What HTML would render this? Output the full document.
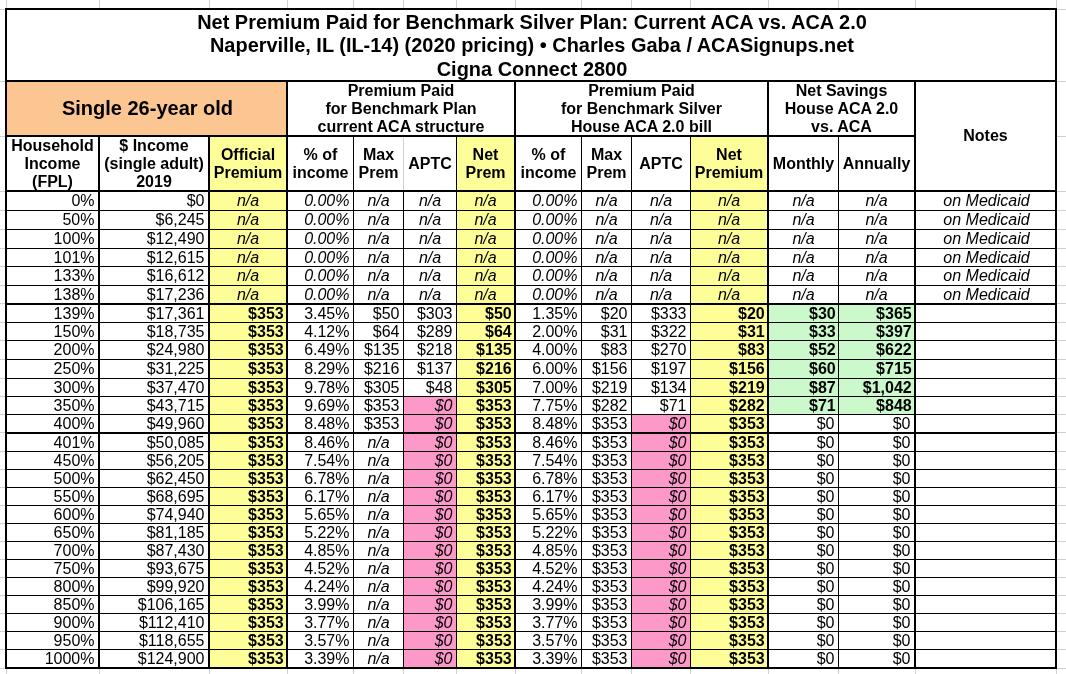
<!DOCTYPE html>
<html><head><meta charset="utf-8"><style>
html,body{margin:0;padding:0;background:#fff;width:1066px;height:674px;overflow:hidden}
body{position:relative;font-family:"Liberation Sans",sans-serif;color:#000}
.b{position:absolute}
.tl{position:absolute;left:0;top:0;width:1066px;height:674px;will-change:transform}
.t{position:absolute;display:flex;align-items:center;box-sizing:border-box;white-space:nowrap}
.title{font-weight:bold;font-size:19.96px;line-height:23.6px;justify-content:center;text-align:center}
.big{font-weight:bold;font-size:20px;justify-content:center}
.hd{font-weight:bold;font-size:16px;line-height:18px;justify-content:center;text-align:center}
.d{font-size:16px;line-height:18px}
.r{justify-content:flex-end;padding-right:3.5px}
.c{justify-content:center}
.it{font-style:italic}
.bo{font-weight:bold}
.r.bo{padding-right:2.3px}
</style></head><body>
<div class="b" style="left:6px;top:0px;width:1px;height:8px;background:#d0d0d0"></div>
<div class="b" style="left:6px;top:668px;width:1px;height:6px;background:#d0d0d0"></div>
<div class="b" style="left:99px;top:0px;width:1px;height:8px;background:#d0d0d0"></div>
<div class="b" style="left:99px;top:668px;width:1px;height:6px;background:#d0d0d0"></div>
<div class="b" style="left:209px;top:0px;width:1px;height:8px;background:#d0d0d0"></div>
<div class="b" style="left:209px;top:668px;width:1px;height:6px;background:#d0d0d0"></div>
<div class="b" style="left:287px;top:0px;width:1px;height:8px;background:#d0d0d0"></div>
<div class="b" style="left:287px;top:668px;width:1px;height:6px;background:#d0d0d0"></div>
<div class="b" style="left:353px;top:0px;width:1px;height:8px;background:#d0d0d0"></div>
<div class="b" style="left:353px;top:668px;width:1px;height:6px;background:#d0d0d0"></div>
<div class="b" style="left:403px;top:0px;width:1px;height:8px;background:#d0d0d0"></div>
<div class="b" style="left:403px;top:668px;width:1px;height:6px;background:#d0d0d0"></div>
<div class="b" style="left:456px;top:0px;width:1px;height:8px;background:#d0d0d0"></div>
<div class="b" style="left:456px;top:668px;width:1px;height:6px;background:#d0d0d0"></div>
<div class="b" style="left:515px;top:0px;width:1px;height:8px;background:#d0d0d0"></div>
<div class="b" style="left:515px;top:668px;width:1px;height:6px;background:#d0d0d0"></div>
<div class="b" style="left:581px;top:0px;width:1px;height:8px;background:#d0d0d0"></div>
<div class="b" style="left:581px;top:668px;width:1px;height:6px;background:#d0d0d0"></div>
<div class="b" style="left:631px;top:0px;width:1px;height:8px;background:#d0d0d0"></div>
<div class="b" style="left:631px;top:668px;width:1px;height:6px;background:#d0d0d0"></div>
<div class="b" style="left:690px;top:0px;width:1px;height:8px;background:#d0d0d0"></div>
<div class="b" style="left:690px;top:668px;width:1px;height:6px;background:#d0d0d0"></div>
<div class="b" style="left:768px;top:0px;width:1px;height:8px;background:#d0d0d0"></div>
<div class="b" style="left:768px;top:668px;width:1px;height:6px;background:#d0d0d0"></div>
<div class="b" style="left:838px;top:0px;width:1px;height:8px;background:#d0d0d0"></div>
<div class="b" style="left:838px;top:668px;width:1px;height:6px;background:#d0d0d0"></div>
<div class="b" style="left:915px;top:0px;width:1px;height:8px;background:#d0d0d0"></div>
<div class="b" style="left:915px;top:668px;width:1px;height:6px;background:#d0d0d0"></div>
<div class="b" style="left:1056px;top:0px;width:1px;height:8px;background:#d0d0d0"></div>
<div class="b" style="left:1056px;top:668px;width:1px;height:6px;background:#d0d0d0"></div>
<div class="b" style="left:0px;top:9px;width:5px;height:1px;background:#d0d0d0"></div>
<div class="b" style="left:1057px;top:9px;width:9px;height:1px;background:#d0d0d0"></div>
<div class="b" style="left:0px;top:81px;width:5px;height:1px;background:#d0d0d0"></div>
<div class="b" style="left:1057px;top:81px;width:9px;height:1px;background:#d0d0d0"></div>
<div class="b" style="left:0px;top:136px;width:5px;height:1px;background:#d0d0d0"></div>
<div class="b" style="left:1057px;top:136px;width:9px;height:1px;background:#d0d0d0"></div>
<div class="b" style="left:0px;top:191px;width:5px;height:1px;background:#d0d0d0"></div>
<div class="b" style="left:1057px;top:191px;width:9px;height:1px;background:#d0d0d0"></div>
<div class="b" style="left:0px;top:210px;width:5px;height:1px;background:#d0d0d0"></div>
<div class="b" style="left:1057px;top:210px;width:9px;height:1px;background:#d0d0d0"></div>
<div class="b" style="left:0px;top:229px;width:5px;height:1px;background:#d0d0d0"></div>
<div class="b" style="left:1057px;top:229px;width:9px;height:1px;background:#d0d0d0"></div>
<div class="b" style="left:0px;top:248px;width:5px;height:1px;background:#d0d0d0"></div>
<div class="b" style="left:1057px;top:248px;width:9px;height:1px;background:#d0d0d0"></div>
<div class="b" style="left:0px;top:266px;width:5px;height:1px;background:#d0d0d0"></div>
<div class="b" style="left:1057px;top:266px;width:9px;height:1px;background:#d0d0d0"></div>
<div class="b" style="left:0px;top:285px;width:5px;height:1px;background:#d0d0d0"></div>
<div class="b" style="left:1057px;top:285px;width:9px;height:1px;background:#d0d0d0"></div>
<div class="b" style="left:0px;top:303px;width:5px;height:1px;background:#d0d0d0"></div>
<div class="b" style="left:1057px;top:303px;width:9px;height:1px;background:#d0d0d0"></div>
<div class="b" style="left:0px;top:322px;width:5px;height:1px;background:#d0d0d0"></div>
<div class="b" style="left:1057px;top:322px;width:9px;height:1px;background:#d0d0d0"></div>
<div class="b" style="left:0px;top:340px;width:5px;height:1px;background:#d0d0d0"></div>
<div class="b" style="left:1057px;top:340px;width:9px;height:1px;background:#d0d0d0"></div>
<div class="b" style="left:0px;top:359px;width:5px;height:1px;background:#d0d0d0"></div>
<div class="b" style="left:1057px;top:359px;width:9px;height:1px;background:#d0d0d0"></div>
<div class="b" style="left:0px;top:378px;width:5px;height:1px;background:#d0d0d0"></div>
<div class="b" style="left:1057px;top:378px;width:9px;height:1px;background:#d0d0d0"></div>
<div class="b" style="left:0px;top:396px;width:5px;height:1px;background:#d0d0d0"></div>
<div class="b" style="left:1057px;top:396px;width:9px;height:1px;background:#d0d0d0"></div>
<div class="b" style="left:0px;top:414px;width:5px;height:1px;background:#d0d0d0"></div>
<div class="b" style="left:1057px;top:414px;width:9px;height:1px;background:#d0d0d0"></div>
<div class="b" style="left:0px;top:432px;width:5px;height:1px;background:#d0d0d0"></div>
<div class="b" style="left:1057px;top:432px;width:9px;height:1px;background:#d0d0d0"></div>
<div class="b" style="left:0px;top:451px;width:5px;height:1px;background:#d0d0d0"></div>
<div class="b" style="left:1057px;top:451px;width:9px;height:1px;background:#d0d0d0"></div>
<div class="b" style="left:0px;top:469px;width:5px;height:1px;background:#d0d0d0"></div>
<div class="b" style="left:1057px;top:469px;width:9px;height:1px;background:#d0d0d0"></div>
<div class="b" style="left:0px;top:487px;width:5px;height:1px;background:#d0d0d0"></div>
<div class="b" style="left:1057px;top:487px;width:9px;height:1px;background:#d0d0d0"></div>
<div class="b" style="left:0px;top:505px;width:5px;height:1px;background:#d0d0d0"></div>
<div class="b" style="left:1057px;top:505px;width:9px;height:1px;background:#d0d0d0"></div>
<div class="b" style="left:0px;top:523px;width:5px;height:1px;background:#d0d0d0"></div>
<div class="b" style="left:1057px;top:523px;width:9px;height:1px;background:#d0d0d0"></div>
<div class="b" style="left:0px;top:541px;width:5px;height:1px;background:#d0d0d0"></div>
<div class="b" style="left:1057px;top:541px;width:9px;height:1px;background:#d0d0d0"></div>
<div class="b" style="left:0px;top:559px;width:5px;height:1px;background:#d0d0d0"></div>
<div class="b" style="left:1057px;top:559px;width:9px;height:1px;background:#d0d0d0"></div>
<div class="b" style="left:0px;top:577px;width:5px;height:1px;background:#d0d0d0"></div>
<div class="b" style="left:1057px;top:577px;width:9px;height:1px;background:#d0d0d0"></div>
<div class="b" style="left:0px;top:595px;width:5px;height:1px;background:#d0d0d0"></div>
<div class="b" style="left:1057px;top:595px;width:9px;height:1px;background:#d0d0d0"></div>
<div class="b" style="left:0px;top:613px;width:5px;height:1px;background:#d0d0d0"></div>
<div class="b" style="left:1057px;top:613px;width:9px;height:1px;background:#d0d0d0"></div>
<div class="b" style="left:0px;top:631px;width:5px;height:1px;background:#d0d0d0"></div>
<div class="b" style="left:1057px;top:631px;width:9px;height:1px;background:#d0d0d0"></div>
<div class="b" style="left:0px;top:649px;width:5px;height:1px;background:#d0d0d0"></div>
<div class="b" style="left:1057px;top:649px;width:9px;height:1px;background:#d0d0d0"></div>
<div class="b" style="left:0px;top:668px;width:5px;height:1px;background:#d0d0d0"></div>
<div class="b" style="left:1057px;top:668px;width:9px;height:1px;background:#d0d0d0"></div>
<div class="b" style="left:7px;top:82px;width:279px;height:53px;background:#fbc692"></div>
<div class="b" style="left:210px;top:137px;width:76px;height:53px;background:#fefe98"></div>
<div class="b" style="left:457px;top:137px;width:57px;height:53px;background:#fefe98"></div>
<div class="b" style="left:691px;top:137px;width:76px;height:53px;background:#fefe98"></div>
<div class="b" style="left:210px;top:192px;width:76px;height:18px;background:#fefe98"></div>
<div class="b" style="left:457px;top:192px;width:57px;height:18px;background:#fefe98"></div>
<div class="b" style="left:691px;top:192px;width:76px;height:18px;background:#fefe98"></div>
<div class="b" style="left:210px;top:211px;width:76px;height:18px;background:#fefe98"></div>
<div class="b" style="left:457px;top:211px;width:57px;height:18px;background:#fefe98"></div>
<div class="b" style="left:691px;top:211px;width:76px;height:18px;background:#fefe98"></div>
<div class="b" style="left:210px;top:230px;width:76px;height:18px;background:#fefe98"></div>
<div class="b" style="left:457px;top:230px;width:57px;height:18px;background:#fefe98"></div>
<div class="b" style="left:691px;top:230px;width:76px;height:18px;background:#fefe98"></div>
<div class="b" style="left:210px;top:249px;width:76px;height:17px;background:#fefe98"></div>
<div class="b" style="left:457px;top:249px;width:57px;height:17px;background:#fefe98"></div>
<div class="b" style="left:691px;top:249px;width:76px;height:17px;background:#fefe98"></div>
<div class="b" style="left:210px;top:267px;width:76px;height:18px;background:#fefe98"></div>
<div class="b" style="left:457px;top:267px;width:57px;height:18px;background:#fefe98"></div>
<div class="b" style="left:691px;top:267px;width:76px;height:18px;background:#fefe98"></div>
<div class="b" style="left:210px;top:286px;width:76px;height:17px;background:#fefe98"></div>
<div class="b" style="left:457px;top:286px;width:57px;height:17px;background:#fefe98"></div>
<div class="b" style="left:691px;top:286px;width:76px;height:17px;background:#fefe98"></div>
<div class="b" style="left:210px;top:305px;width:76px;height:17px;background:#fefe98"></div>
<div class="b" style="left:457px;top:305px;width:57px;height:17px;background:#fefe98"></div>
<div class="b" style="left:691px;top:305px;width:76px;height:17px;background:#fefe98"></div>
<div class="b" style="left:769px;top:305px;width:69px;height:17px;background:#cbf9cb"></div>
<div class="b" style="left:839px;top:305px;width:75px;height:17px;background:#cbf9cb"></div>
<div class="b" style="left:210px;top:323px;width:76px;height:17px;background:#fefe98"></div>
<div class="b" style="left:457px;top:323px;width:57px;height:17px;background:#fefe98"></div>
<div class="b" style="left:691px;top:323px;width:76px;height:17px;background:#fefe98"></div>
<div class="b" style="left:769px;top:323px;width:69px;height:17px;background:#cbf9cb"></div>
<div class="b" style="left:839px;top:323px;width:75px;height:17px;background:#cbf9cb"></div>
<div class="b" style="left:210px;top:341px;width:76px;height:18px;background:#fefe98"></div>
<div class="b" style="left:457px;top:341px;width:57px;height:18px;background:#fefe98"></div>
<div class="b" style="left:691px;top:341px;width:76px;height:18px;background:#fefe98"></div>
<div class="b" style="left:769px;top:341px;width:69px;height:18px;background:#cbf9cb"></div>
<div class="b" style="left:839px;top:341px;width:75px;height:18px;background:#cbf9cb"></div>
<div class="b" style="left:210px;top:360px;width:76px;height:18px;background:#fefe98"></div>
<div class="b" style="left:457px;top:360px;width:57px;height:18px;background:#fefe98"></div>
<div class="b" style="left:691px;top:360px;width:76px;height:18px;background:#fefe98"></div>
<div class="b" style="left:769px;top:360px;width:69px;height:18px;background:#cbf9cb"></div>
<div class="b" style="left:839px;top:360px;width:75px;height:18px;background:#cbf9cb"></div>
<div class="b" style="left:210px;top:379px;width:76px;height:17px;background:#fefe98"></div>
<div class="b" style="left:457px;top:379px;width:57px;height:17px;background:#fefe98"></div>
<div class="b" style="left:691px;top:379px;width:76px;height:17px;background:#fefe98"></div>
<div class="b" style="left:769px;top:379px;width:69px;height:17px;background:#cbf9cb"></div>
<div class="b" style="left:839px;top:379px;width:75px;height:17px;background:#cbf9cb"></div>
<div class="b" style="left:210px;top:397px;width:76px;height:17px;background:#fefe98"></div>
<div class="b" style="left:457px;top:397px;width:57px;height:17px;background:#fefe98"></div>
<div class="b" style="left:691px;top:397px;width:76px;height:17px;background:#fefe98"></div>
<div class="b" style="left:404px;top:397px;width:52px;height:17px;background:#fd99c9"></div>
<div class="b" style="left:769px;top:397px;width:69px;height:17px;background:#cbf9cb"></div>
<div class="b" style="left:839px;top:397px;width:75px;height:17px;background:#cbf9cb"></div>
<div class="b" style="left:210px;top:415px;width:76px;height:17px;background:#fefe98"></div>
<div class="b" style="left:457px;top:415px;width:57px;height:17px;background:#fefe98"></div>
<div class="b" style="left:691px;top:415px;width:76px;height:17px;background:#fefe98"></div>
<div class="b" style="left:404px;top:415px;width:52px;height:17px;background:#fd99c9"></div>
<div class="b" style="left:632px;top:415px;width:58px;height:17px;background:#fd99c9"></div>
<div class="b" style="left:210px;top:434px;width:76px;height:17px;background:#fefe98"></div>
<div class="b" style="left:457px;top:434px;width:57px;height:17px;background:#fefe98"></div>
<div class="b" style="left:691px;top:434px;width:76px;height:17px;background:#fefe98"></div>
<div class="b" style="left:404px;top:434px;width:52px;height:17px;background:#fd99c9"></div>
<div class="b" style="left:632px;top:434px;width:58px;height:17px;background:#fd99c9"></div>
<div class="b" style="left:210px;top:452px;width:76px;height:17px;background:#fefe98"></div>
<div class="b" style="left:457px;top:452px;width:57px;height:17px;background:#fefe98"></div>
<div class="b" style="left:691px;top:452px;width:76px;height:17px;background:#fefe98"></div>
<div class="b" style="left:404px;top:452px;width:52px;height:17px;background:#fd99c9"></div>
<div class="b" style="left:632px;top:452px;width:58px;height:17px;background:#fd99c9"></div>
<div class="b" style="left:210px;top:470px;width:76px;height:17px;background:#fefe98"></div>
<div class="b" style="left:457px;top:470px;width:57px;height:17px;background:#fefe98"></div>
<div class="b" style="left:691px;top:470px;width:76px;height:17px;background:#fefe98"></div>
<div class="b" style="left:404px;top:470px;width:52px;height:17px;background:#fd99c9"></div>
<div class="b" style="left:632px;top:470px;width:58px;height:17px;background:#fd99c9"></div>
<div class="b" style="left:210px;top:488px;width:76px;height:17px;background:#fefe98"></div>
<div class="b" style="left:457px;top:488px;width:57px;height:17px;background:#fefe98"></div>
<div class="b" style="left:691px;top:488px;width:76px;height:17px;background:#fefe98"></div>
<div class="b" style="left:404px;top:488px;width:52px;height:17px;background:#fd99c9"></div>
<div class="b" style="left:632px;top:488px;width:58px;height:17px;background:#fd99c9"></div>
<div class="b" style="left:210px;top:506px;width:76px;height:17px;background:#fefe98"></div>
<div class="b" style="left:457px;top:506px;width:57px;height:17px;background:#fefe98"></div>
<div class="b" style="left:691px;top:506px;width:76px;height:17px;background:#fefe98"></div>
<div class="b" style="left:404px;top:506px;width:52px;height:17px;background:#fd99c9"></div>
<div class="b" style="left:632px;top:506px;width:58px;height:17px;background:#fd99c9"></div>
<div class="b" style="left:210px;top:524px;width:76px;height:17px;background:#fefe98"></div>
<div class="b" style="left:457px;top:524px;width:57px;height:17px;background:#fefe98"></div>
<div class="b" style="left:691px;top:524px;width:76px;height:17px;background:#fefe98"></div>
<div class="b" style="left:404px;top:524px;width:52px;height:17px;background:#fd99c9"></div>
<div class="b" style="left:632px;top:524px;width:58px;height:17px;background:#fd99c9"></div>
<div class="b" style="left:210px;top:542px;width:76px;height:17px;background:#fefe98"></div>
<div class="b" style="left:457px;top:542px;width:57px;height:17px;background:#fefe98"></div>
<div class="b" style="left:691px;top:542px;width:76px;height:17px;background:#fefe98"></div>
<div class="b" style="left:404px;top:542px;width:52px;height:17px;background:#fd99c9"></div>
<div class="b" style="left:632px;top:542px;width:58px;height:17px;background:#fd99c9"></div>
<div class="b" style="left:210px;top:560px;width:76px;height:17px;background:#fefe98"></div>
<div class="b" style="left:457px;top:560px;width:57px;height:17px;background:#fefe98"></div>
<div class="b" style="left:691px;top:560px;width:76px;height:17px;background:#fefe98"></div>
<div class="b" style="left:404px;top:560px;width:52px;height:17px;background:#fd99c9"></div>
<div class="b" style="left:632px;top:560px;width:58px;height:17px;background:#fd99c9"></div>
<div class="b" style="left:210px;top:578px;width:76px;height:17px;background:#fefe98"></div>
<div class="b" style="left:457px;top:578px;width:57px;height:17px;background:#fefe98"></div>
<div class="b" style="left:691px;top:578px;width:76px;height:17px;background:#fefe98"></div>
<div class="b" style="left:404px;top:578px;width:52px;height:17px;background:#fd99c9"></div>
<div class="b" style="left:632px;top:578px;width:58px;height:17px;background:#fd99c9"></div>
<div class="b" style="left:210px;top:596px;width:76px;height:17px;background:#fefe98"></div>
<div class="b" style="left:457px;top:596px;width:57px;height:17px;background:#fefe98"></div>
<div class="b" style="left:691px;top:596px;width:76px;height:17px;background:#fefe98"></div>
<div class="b" style="left:404px;top:596px;width:52px;height:17px;background:#fd99c9"></div>
<div class="b" style="left:632px;top:596px;width:58px;height:17px;background:#fd99c9"></div>
<div class="b" style="left:210px;top:614px;width:76px;height:17px;background:#fefe98"></div>
<div class="b" style="left:457px;top:614px;width:57px;height:17px;background:#fefe98"></div>
<div class="b" style="left:691px;top:614px;width:76px;height:17px;background:#fefe98"></div>
<div class="b" style="left:404px;top:614px;width:52px;height:17px;background:#fd99c9"></div>
<div class="b" style="left:632px;top:614px;width:58px;height:17px;background:#fd99c9"></div>
<div class="b" style="left:210px;top:632px;width:76px;height:17px;background:#fefe98"></div>
<div class="b" style="left:457px;top:632px;width:57px;height:17px;background:#fefe98"></div>
<div class="b" style="left:691px;top:632px;width:76px;height:17px;background:#fefe98"></div>
<div class="b" style="left:404px;top:632px;width:52px;height:17px;background:#fd99c9"></div>
<div class="b" style="left:632px;top:632px;width:58px;height:17px;background:#fd99c9"></div>
<div class="b" style="left:210px;top:650px;width:76px;height:17px;background:#fefe98"></div>
<div class="b" style="left:457px;top:650px;width:57px;height:17px;background:#fefe98"></div>
<div class="b" style="left:691px;top:650px;width:76px;height:17px;background:#fefe98"></div>
<div class="b" style="left:404px;top:650px;width:52px;height:17px;background:#fd99c9"></div>
<div class="b" style="left:632px;top:650px;width:58px;height:17px;background:#fd99c9"></div>
<div class="b" style="left:5px;top:8px;width:1052px;height:2px;background:#000"></div>
<div class="b" style="left:5px;top:80px;width:1052px;height:2px;background:#000"></div>
<div class="b" style="left:5px;top:135px;width:909px;height:2px;background:#000"></div>
<div class="b" style="left:5px;top:8px;width:2px;height:661px;background:#000"></div>
<div class="b" style="left:1055px;top:8px;width:2px;height:661px;background:#000"></div>
<div class="b" style="left:286px;top:82px;width:2px;height:108px;background:#000"></div>
<div class="b" style="left:514px;top:82px;width:2px;height:108px;background:#000"></div>
<div class="b" style="left:767px;top:82px;width:2px;height:108px;background:#000"></div>
<div class="b" style="left:914px;top:82px;width:2px;height:108px;background:#000"></div>
<div class="b" style="left:98px;top:137px;width:2px;height:53px;background:#000"></div>
<div class="b" style="left:208px;top:137px;width:2px;height:53px;background:#000"></div>
<div class="b" style="left:353px;top:137px;width:1px;height:53px;background:#000"></div>
<div class="b" style="left:456px;top:137px;width:1px;height:53px;background:#000"></div>
<div class="b" style="left:581px;top:137px;width:1px;height:53px;background:#000"></div>
<div class="b" style="left:631px;top:137px;width:1px;height:53px;background:#000"></div>
<div class="b" style="left:690px;top:137px;width:1px;height:53px;background:#000"></div>
<div class="b" style="left:838px;top:137px;width:1px;height:53px;background:#000"></div>
<div class="b" style="left:403px;top:137px;width:1px;height:53px;background:#d0d0d0"></div>
<div class="b" style="left:98px;top:190px;width:2px;height:477px;background:#000"></div>
<div class="b" style="left:208px;top:190px;width:2px;height:477px;background:#000"></div>
<div class="b" style="left:286px;top:190px;width:2px;height:477px;background:#000"></div>
<div class="b" style="left:353px;top:190px;width:1px;height:477px;background:#000"></div>
<div class="b" style="left:403px;top:190px;width:1px;height:477px;background:#000"></div>
<div class="b" style="left:456px;top:190px;width:1px;height:477px;background:#000"></div>
<div class="b" style="left:514px;top:190px;width:2px;height:477px;background:#000"></div>
<div class="b" style="left:581px;top:190px;width:1px;height:477px;background:#000"></div>
<div class="b" style="left:631px;top:190px;width:1px;height:477px;background:#000"></div>
<div class="b" style="left:690px;top:190px;width:1px;height:477px;background:#000"></div>
<div class="b" style="left:767px;top:190px;width:2px;height:477px;background:#000"></div>
<div class="b" style="left:838px;top:190px;width:1px;height:477px;background:#000"></div>
<div class="b" style="left:914px;top:190px;width:2px;height:477px;background:#000"></div>
<div class="b" style="left:5px;top:190px;width:1052px;height:2px;background:#000"></div>
<div class="b" style="left:5px;top:210px;width:1052px;height:1px;background:#000"></div>
<div class="b" style="left:5px;top:229px;width:1052px;height:1px;background:#000"></div>
<div class="b" style="left:5px;top:248px;width:1052px;height:1px;background:#000"></div>
<div class="b" style="left:5px;top:266px;width:1052px;height:1px;background:#000"></div>
<div class="b" style="left:5px;top:285px;width:1052px;height:1px;background:#000"></div>
<div class="b" style="left:5px;top:303px;width:1052px;height:2px;background:#000"></div>
<div class="b" style="left:5px;top:322px;width:1052px;height:1px;background:#000"></div>
<div class="b" style="left:5px;top:340px;width:1052px;height:1px;background:#000"></div>
<div class="b" style="left:5px;top:359px;width:1052px;height:1px;background:#000"></div>
<div class="b" style="left:5px;top:378px;width:1052px;height:1px;background:#000"></div>
<div class="b" style="left:5px;top:396px;width:1052px;height:1px;background:#000"></div>
<div class="b" style="left:5px;top:414px;width:1052px;height:1px;background:#000"></div>
<div class="b" style="left:5px;top:432px;width:1052px;height:2px;background:#000"></div>
<div class="b" style="left:5px;top:451px;width:1052px;height:1px;background:#000"></div>
<div class="b" style="left:5px;top:469px;width:1052px;height:1px;background:#000"></div>
<div class="b" style="left:5px;top:487px;width:1052px;height:1px;background:#000"></div>
<div class="b" style="left:5px;top:505px;width:1052px;height:1px;background:#000"></div>
<div class="b" style="left:5px;top:523px;width:1052px;height:1px;background:#000"></div>
<div class="b" style="left:5px;top:541px;width:1052px;height:1px;background:#000"></div>
<div class="b" style="left:5px;top:559px;width:1052px;height:1px;background:#000"></div>
<div class="b" style="left:5px;top:577px;width:1052px;height:1px;background:#000"></div>
<div class="b" style="left:5px;top:595px;width:1052px;height:1px;background:#000"></div>
<div class="b" style="left:5px;top:613px;width:1052px;height:1px;background:#000"></div>
<div class="b" style="left:5px;top:631px;width:1052px;height:1px;background:#000"></div>
<div class="b" style="left:5px;top:649px;width:1052px;height:1px;background:#000"></div>
<div class="b" style="left:5px;top:667px;width:1052px;height:2px;background:#000"></div>
<div class="tl">
<div class="t title" style="left:8px;top:11px;width:1048px;height:70px">Net Premium Paid for Benchmark Silver Plan: Current ACA vs. ACA 2.0<br>Naperville, IL (IL-14) (2020 pricing) &bull; Charles Gaba / ACASignups.net<br>Cigna Connect 2800</div>
<div class="t big" style="left:8px;top:82px;width:279px;height:53px;">Single 26-year old</div>
<div class="t hd" style="left:288px;top:82px;width:226px;height:53px;">Premium Paid<br>for Benchmark Plan<br>current ACA structure</div>
<div class="t hd" style="left:516px;top:82px;width:251px;height:53px;">Premium Paid<br>for Benchmark Silver<br>House ACA 2.0 bill</div>
<div class="t hd" style="left:769px;top:82px;width:145px;height:53px;">Net Savings<br>House ACA 2.0<br>vs. ACA</div>
<div class="t hd" style="left:916px;top:82px;width:139px;height:108px;">Notes</div>
<div class="t hd" style="left:7px;top:137px;width:91px;height:53px;">Household<br>Income<br>(FPL)</div>
<div class="t hd" style="left:100px;top:137px;width:108px;height:53px;">$ Income<br>(single adult)<br>2019</div>
<div class="t hd" style="left:210px;top:137px;width:76px;height:53px;">Official<br>Premium</div>
<div class="t hd" style="left:288px;top:137px;width:65px;height:53px;">% of<br>income</div>
<div class="t hd" style="left:354px;top:137px;width:49px;height:53px;">Max<br>Prem</div>
<div class="t hd" style="left:404px;top:137px;width:52px;height:53px;">APTC</div>
<div class="t hd" style="left:457px;top:137px;width:57px;height:53px;">Net<br>Prem</div>
<div class="t hd" style="left:516px;top:137px;width:65px;height:53px;">% of<br>income</div>
<div class="t hd" style="left:582px;top:137px;width:49px;height:53px;">Max<br>Prem</div>
<div class="t hd" style="left:632px;top:137px;width:58px;height:53px;">APTC</div>
<div class="t hd" style="left:691px;top:137px;width:76px;height:53px;">Net<br>Premium</div>
<div class="t hd" style="left:769px;top:137px;width:69px;height:53px;">Monthly</div>
<div class="t hd" style="left:839px;top:137px;width:75px;height:53px;">Annually</div>
<div class="t d r" style="left:7px;top:192px;width:91px;height:18px;">0%</div>
<div class="t d r" style="left:100px;top:192px;width:108px;height:18px;">$0</div>
<div class="t d it c" style="left:210px;top:192px;width:76px;height:18px;">n/a</div>
<div class="t d r it" style="left:288px;top:192px;width:65px;height:18px;">0.00%</div>
<div class="t d it c" style="left:354px;top:192px;width:49px;height:18px;">n/a</div>
<div class="t d it c" style="left:404px;top:192px;width:52px;height:18px;">n/a</div>
<div class="t d it c" style="left:457px;top:192px;width:57px;height:18px;">n/a</div>
<div class="t d r it" style="left:516px;top:192px;width:65px;height:18px;">0.00%</div>
<div class="t d it c" style="left:582px;top:192px;width:49px;height:18px;">n/a</div>
<div class="t d it c" style="left:632px;top:192px;width:58px;height:18px;">n/a</div>
<div class="t d it c" style="left:691px;top:192px;width:76px;height:18px;">n/a</div>
<div class="t d it c" style="left:769px;top:192px;width:69px;height:18px;">n/a</div>
<div class="t d it c" style="left:839px;top:192px;width:75px;height:18px;">n/a</div>
<div class="t d it c" style="left:916px;top:192px;width:139px;height:18px;padding-left:2px">on Medicaid</div>
<div class="t d r" style="left:7px;top:211px;width:91px;height:18px;">50%</div>
<div class="t d r" style="left:100px;top:211px;width:108px;height:18px;">$6,245</div>
<div class="t d it c" style="left:210px;top:211px;width:76px;height:18px;">n/a</div>
<div class="t d r it" style="left:288px;top:211px;width:65px;height:18px;">0.00%</div>
<div class="t d it c" style="left:354px;top:211px;width:49px;height:18px;">n/a</div>
<div class="t d it c" style="left:404px;top:211px;width:52px;height:18px;">n/a</div>
<div class="t d it c" style="left:457px;top:211px;width:57px;height:18px;">n/a</div>
<div class="t d r it" style="left:516px;top:211px;width:65px;height:18px;">0.00%</div>
<div class="t d it c" style="left:582px;top:211px;width:49px;height:18px;">n/a</div>
<div class="t d it c" style="left:632px;top:211px;width:58px;height:18px;">n/a</div>
<div class="t d it c" style="left:691px;top:211px;width:76px;height:18px;">n/a</div>
<div class="t d it c" style="left:769px;top:211px;width:69px;height:18px;">n/a</div>
<div class="t d it c" style="left:839px;top:211px;width:75px;height:18px;">n/a</div>
<div class="t d it c" style="left:916px;top:211px;width:139px;height:18px;padding-left:2px">on Medicaid</div>
<div class="t d r" style="left:7px;top:230px;width:91px;height:18px;">100%</div>
<div class="t d r" style="left:100px;top:230px;width:108px;height:18px;">$12,490</div>
<div class="t d it c" style="left:210px;top:230px;width:76px;height:18px;">n/a</div>
<div class="t d r it" style="left:288px;top:230px;width:65px;height:18px;">0.00%</div>
<div class="t d it c" style="left:354px;top:230px;width:49px;height:18px;">n/a</div>
<div class="t d it c" style="left:404px;top:230px;width:52px;height:18px;">n/a</div>
<div class="t d it c" style="left:457px;top:230px;width:57px;height:18px;">n/a</div>
<div class="t d r it" style="left:516px;top:230px;width:65px;height:18px;">0.00%</div>
<div class="t d it c" style="left:582px;top:230px;width:49px;height:18px;">n/a</div>
<div class="t d it c" style="left:632px;top:230px;width:58px;height:18px;">n/a</div>
<div class="t d it c" style="left:691px;top:230px;width:76px;height:18px;">n/a</div>
<div class="t d it c" style="left:769px;top:230px;width:69px;height:18px;">n/a</div>
<div class="t d it c" style="left:839px;top:230px;width:75px;height:18px;">n/a</div>
<div class="t d it c" style="left:916px;top:230px;width:139px;height:18px;padding-left:2px">on Medicaid</div>
<div class="t d r" style="left:7px;top:249px;width:91px;height:17px;">101%</div>
<div class="t d r" style="left:100px;top:249px;width:108px;height:17px;">$12,615</div>
<div class="t d it c" style="left:210px;top:249px;width:76px;height:17px;">n/a</div>
<div class="t d r it" style="left:288px;top:249px;width:65px;height:17px;">0.00%</div>
<div class="t d it c" style="left:354px;top:249px;width:49px;height:17px;">n/a</div>
<div class="t d it c" style="left:404px;top:249px;width:52px;height:17px;">n/a</div>
<div class="t d it c" style="left:457px;top:249px;width:57px;height:17px;">n/a</div>
<div class="t d r it" style="left:516px;top:249px;width:65px;height:17px;">0.00%</div>
<div class="t d it c" style="left:582px;top:249px;width:49px;height:17px;">n/a</div>
<div class="t d it c" style="left:632px;top:249px;width:58px;height:17px;">n/a</div>
<div class="t d it c" style="left:691px;top:249px;width:76px;height:17px;">n/a</div>
<div class="t d it c" style="left:769px;top:249px;width:69px;height:17px;">n/a</div>
<div class="t d it c" style="left:839px;top:249px;width:75px;height:17px;">n/a</div>
<div class="t d it c" style="left:916px;top:249px;width:139px;height:17px;padding-left:2px">on Medicaid</div>
<div class="t d r" style="left:7px;top:267px;width:91px;height:18px;">133%</div>
<div class="t d r" style="left:100px;top:267px;width:108px;height:18px;">$16,612</div>
<div class="t d it c" style="left:210px;top:267px;width:76px;height:18px;">n/a</div>
<div class="t d r it" style="left:288px;top:267px;width:65px;height:18px;">0.00%</div>
<div class="t d it c" style="left:354px;top:267px;width:49px;height:18px;">n/a</div>
<div class="t d it c" style="left:404px;top:267px;width:52px;height:18px;">n/a</div>
<div class="t d it c" style="left:457px;top:267px;width:57px;height:18px;">n/a</div>
<div class="t d r it" style="left:516px;top:267px;width:65px;height:18px;">0.00%</div>
<div class="t d it c" style="left:582px;top:267px;width:49px;height:18px;">n/a</div>
<div class="t d it c" style="left:632px;top:267px;width:58px;height:18px;">n/a</div>
<div class="t d it c" style="left:691px;top:267px;width:76px;height:18px;">n/a</div>
<div class="t d it c" style="left:769px;top:267px;width:69px;height:18px;">n/a</div>
<div class="t d it c" style="left:839px;top:267px;width:75px;height:18px;">n/a</div>
<div class="t d it c" style="left:916px;top:267px;width:139px;height:18px;padding-left:2px">on Medicaid</div>
<div class="t d r" style="left:7px;top:286px;width:91px;height:17px;">138%</div>
<div class="t d r" style="left:100px;top:286px;width:108px;height:17px;">$17,236</div>
<div class="t d it c" style="left:210px;top:286px;width:76px;height:17px;">n/a</div>
<div class="t d r it" style="left:288px;top:286px;width:65px;height:17px;">0.00%</div>
<div class="t d it c" style="left:354px;top:286px;width:49px;height:17px;">n/a</div>
<div class="t d it c" style="left:404px;top:286px;width:52px;height:17px;">n/a</div>
<div class="t d it c" style="left:457px;top:286px;width:57px;height:17px;">n/a</div>
<div class="t d r it" style="left:516px;top:286px;width:65px;height:17px;">0.00%</div>
<div class="t d it c" style="left:582px;top:286px;width:49px;height:17px;">n/a</div>
<div class="t d it c" style="left:632px;top:286px;width:58px;height:17px;">n/a</div>
<div class="t d it c" style="left:691px;top:286px;width:76px;height:17px;">n/a</div>
<div class="t d it c" style="left:769px;top:286px;width:69px;height:17px;">n/a</div>
<div class="t d it c" style="left:839px;top:286px;width:75px;height:17px;">n/a</div>
<div class="t d it c" style="left:916px;top:286px;width:139px;height:17px;padding-left:2px">on Medicaid</div>
<div class="t d r" style="left:7px;top:305px;width:91px;height:17px;">139%</div>
<div class="t d r" style="left:100px;top:305px;width:108px;height:17px;">$17,361</div>
<div class="t d r bo" style="left:210px;top:305px;width:76px;height:17px;">$353</div>
<div class="t d r" style="left:288px;top:305px;width:65px;height:17px;">3.45%</div>
<div class="t d r" style="left:354px;top:305px;width:49px;height:17px;">$50</div>
<div class="t d r" style="left:404px;top:305px;width:52px;height:17px;">$303</div>
<div class="t d r bo" style="left:457px;top:305px;width:57px;height:17px;">$50</div>
<div class="t d r" style="left:516px;top:305px;width:65px;height:17px;">1.35%</div>
<div class="t d r" style="left:582px;top:305px;width:49px;height:17px;">$20</div>
<div class="t d r" style="left:632px;top:305px;width:58px;height:17px;">$333</div>
<div class="t d r bo" style="left:691px;top:305px;width:76px;height:17px;">$20</div>
<div class="t d r bo" style="left:769px;top:305px;width:69px;height:17px;">$30</div>
<div class="t d r bo" style="left:839px;top:305px;width:75px;height:17px;">$365</div>
<div class="t d r" style="left:7px;top:323px;width:91px;height:17px;">150%</div>
<div class="t d r" style="left:100px;top:323px;width:108px;height:17px;">$18,735</div>
<div class="t d r bo" style="left:210px;top:323px;width:76px;height:17px;">$353</div>
<div class="t d r" style="left:288px;top:323px;width:65px;height:17px;">4.12%</div>
<div class="t d r" style="left:354px;top:323px;width:49px;height:17px;">$64</div>
<div class="t d r" style="left:404px;top:323px;width:52px;height:17px;">$289</div>
<div class="t d r bo" style="left:457px;top:323px;width:57px;height:17px;">$64</div>
<div class="t d r" style="left:516px;top:323px;width:65px;height:17px;">2.00%</div>
<div class="t d r" style="left:582px;top:323px;width:49px;height:17px;">$31</div>
<div class="t d r" style="left:632px;top:323px;width:58px;height:17px;">$322</div>
<div class="t d r bo" style="left:691px;top:323px;width:76px;height:17px;">$31</div>
<div class="t d r bo" style="left:769px;top:323px;width:69px;height:17px;">$33</div>
<div class="t d r bo" style="left:839px;top:323px;width:75px;height:17px;">$397</div>
<div class="t d r" style="left:7px;top:341px;width:91px;height:18px;">200%</div>
<div class="t d r" style="left:100px;top:341px;width:108px;height:18px;">$24,980</div>
<div class="t d r bo" style="left:210px;top:341px;width:76px;height:18px;">$353</div>
<div class="t d r" style="left:288px;top:341px;width:65px;height:18px;">6.49%</div>
<div class="t d r" style="left:354px;top:341px;width:49px;height:18px;">$135</div>
<div class="t d r" style="left:404px;top:341px;width:52px;height:18px;">$218</div>
<div class="t d r bo" style="left:457px;top:341px;width:57px;height:18px;">$135</div>
<div class="t d r" style="left:516px;top:341px;width:65px;height:18px;">4.00%</div>
<div class="t d r" style="left:582px;top:341px;width:49px;height:18px;">$83</div>
<div class="t d r" style="left:632px;top:341px;width:58px;height:18px;">$270</div>
<div class="t d r bo" style="left:691px;top:341px;width:76px;height:18px;">$83</div>
<div class="t d r bo" style="left:769px;top:341px;width:69px;height:18px;">$52</div>
<div class="t d r bo" style="left:839px;top:341px;width:75px;height:18px;">$622</div>
<div class="t d r" style="left:7px;top:360px;width:91px;height:18px;">250%</div>
<div class="t d r" style="left:100px;top:360px;width:108px;height:18px;">$31,225</div>
<div class="t d r bo" style="left:210px;top:360px;width:76px;height:18px;">$353</div>
<div class="t d r" style="left:288px;top:360px;width:65px;height:18px;">8.29%</div>
<div class="t d r" style="left:354px;top:360px;width:49px;height:18px;">$216</div>
<div class="t d r" style="left:404px;top:360px;width:52px;height:18px;">$137</div>
<div class="t d r bo" style="left:457px;top:360px;width:57px;height:18px;">$216</div>
<div class="t d r" style="left:516px;top:360px;width:65px;height:18px;">6.00%</div>
<div class="t d r" style="left:582px;top:360px;width:49px;height:18px;">$156</div>
<div class="t d r" style="left:632px;top:360px;width:58px;height:18px;">$197</div>
<div class="t d r bo" style="left:691px;top:360px;width:76px;height:18px;">$156</div>
<div class="t d r bo" style="left:769px;top:360px;width:69px;height:18px;">$60</div>
<div class="t d r bo" style="left:839px;top:360px;width:75px;height:18px;">$715</div>
<div class="t d r" style="left:7px;top:379px;width:91px;height:17px;">300%</div>
<div class="t d r" style="left:100px;top:379px;width:108px;height:17px;">$37,470</div>
<div class="t d r bo" style="left:210px;top:379px;width:76px;height:17px;">$353</div>
<div class="t d r" style="left:288px;top:379px;width:65px;height:17px;">9.78%</div>
<div class="t d r" style="left:354px;top:379px;width:49px;height:17px;">$305</div>
<div class="t d r" style="left:404px;top:379px;width:52px;height:17px;">$48</div>
<div class="t d r bo" style="left:457px;top:379px;width:57px;height:17px;">$305</div>
<div class="t d r" style="left:516px;top:379px;width:65px;height:17px;">7.00%</div>
<div class="t d r" style="left:582px;top:379px;width:49px;height:17px;">$219</div>
<div class="t d r" style="left:632px;top:379px;width:58px;height:17px;">$134</div>
<div class="t d r bo" style="left:691px;top:379px;width:76px;height:17px;">$219</div>
<div class="t d r bo" style="left:769px;top:379px;width:69px;height:17px;">$87</div>
<div class="t d r bo" style="left:839px;top:379px;width:75px;height:17px;">$1,042</div>
<div class="t d r" style="left:7px;top:397px;width:91px;height:17px;">350%</div>
<div class="t d r" style="left:100px;top:397px;width:108px;height:17px;">$43,715</div>
<div class="t d r bo" style="left:210px;top:397px;width:76px;height:17px;">$353</div>
<div class="t d r" style="left:288px;top:397px;width:65px;height:17px;">9.69%</div>
<div class="t d r" style="left:354px;top:397px;width:49px;height:17px;">$353</div>
<div class="t d r it" style="left:404px;top:397px;width:52px;height:17px;">$0</div>
<div class="t d r bo" style="left:457px;top:397px;width:57px;height:17px;">$353</div>
<div class="t d r" style="left:516px;top:397px;width:65px;height:17px;">7.75%</div>
<div class="t d r" style="left:582px;top:397px;width:49px;height:17px;">$282</div>
<div class="t d r" style="left:632px;top:397px;width:58px;height:17px;">$71</div>
<div class="t d r bo" style="left:691px;top:397px;width:76px;height:17px;">$282</div>
<div class="t d r bo" style="left:769px;top:397px;width:69px;height:17px;">$71</div>
<div class="t d r bo" style="left:839px;top:397px;width:75px;height:17px;">$848</div>
<div class="t d r" style="left:7px;top:415px;width:91px;height:17px;">400%</div>
<div class="t d r" style="left:100px;top:415px;width:108px;height:17px;">$49,960</div>
<div class="t d r bo" style="left:210px;top:415px;width:76px;height:17px;">$353</div>
<div class="t d r" style="left:288px;top:415px;width:65px;height:17px;">8.48%</div>
<div class="t d r" style="left:354px;top:415px;width:49px;height:17px;">$353</div>
<div class="t d r it" style="left:404px;top:415px;width:52px;height:17px;">$0</div>
<div class="t d r bo" style="left:457px;top:415px;width:57px;height:17px;">$353</div>
<div class="t d r" style="left:516px;top:415px;width:65px;height:17px;">8.48%</div>
<div class="t d r" style="left:582px;top:415px;width:49px;height:17px;">$353</div>
<div class="t d r it" style="left:632px;top:415px;width:58px;height:17px;">$0</div>
<div class="t d r bo" style="left:691px;top:415px;width:76px;height:17px;">$353</div>
<div class="t d r" style="left:769px;top:415px;width:69px;height:17px;">$0</div>
<div class="t d r" style="left:839px;top:415px;width:75px;height:17px;">$0</div>
<div class="t d r" style="left:7px;top:434px;width:91px;height:17px;">401%</div>
<div class="t d r" style="left:100px;top:434px;width:108px;height:17px;">$50,085</div>
<div class="t d r bo" style="left:210px;top:434px;width:76px;height:17px;">$353</div>
<div class="t d r" style="left:288px;top:434px;width:65px;height:17px;">8.46%</div>
<div class="t d it c" style="left:354px;top:434px;width:49px;height:17px;">n/a</div>
<div class="t d r it" style="left:404px;top:434px;width:52px;height:17px;">$0</div>
<div class="t d r bo" style="left:457px;top:434px;width:57px;height:17px;">$353</div>
<div class="t d r" style="left:516px;top:434px;width:65px;height:17px;">8.46%</div>
<div class="t d r" style="left:582px;top:434px;width:49px;height:17px;">$353</div>
<div class="t d r it" style="left:632px;top:434px;width:58px;height:17px;">$0</div>
<div class="t d r bo" style="left:691px;top:434px;width:76px;height:17px;">$353</div>
<div class="t d r" style="left:769px;top:434px;width:69px;height:17px;">$0</div>
<div class="t d r" style="left:839px;top:434px;width:75px;height:17px;">$0</div>
<div class="t d r" style="left:7px;top:452px;width:91px;height:17px;">450%</div>
<div class="t d r" style="left:100px;top:452px;width:108px;height:17px;">$56,205</div>
<div class="t d r bo" style="left:210px;top:452px;width:76px;height:17px;">$353</div>
<div class="t d r" style="left:288px;top:452px;width:65px;height:17px;">7.54%</div>
<div class="t d it c" style="left:354px;top:452px;width:49px;height:17px;">n/a</div>
<div class="t d r it" style="left:404px;top:452px;width:52px;height:17px;">$0</div>
<div class="t d r bo" style="left:457px;top:452px;width:57px;height:17px;">$353</div>
<div class="t d r" style="left:516px;top:452px;width:65px;height:17px;">7.54%</div>
<div class="t d r" style="left:582px;top:452px;width:49px;height:17px;">$353</div>
<div class="t d r it" style="left:632px;top:452px;width:58px;height:17px;">$0</div>
<div class="t d r bo" style="left:691px;top:452px;width:76px;height:17px;">$353</div>
<div class="t d r" style="left:769px;top:452px;width:69px;height:17px;">$0</div>
<div class="t d r" style="left:839px;top:452px;width:75px;height:17px;">$0</div>
<div class="t d r" style="left:7px;top:470px;width:91px;height:17px;">500%</div>
<div class="t d r" style="left:100px;top:470px;width:108px;height:17px;">$62,450</div>
<div class="t d r bo" style="left:210px;top:470px;width:76px;height:17px;">$353</div>
<div class="t d r" style="left:288px;top:470px;width:65px;height:17px;">6.78%</div>
<div class="t d it c" style="left:354px;top:470px;width:49px;height:17px;">n/a</div>
<div class="t d r it" style="left:404px;top:470px;width:52px;height:17px;">$0</div>
<div class="t d r bo" style="left:457px;top:470px;width:57px;height:17px;">$353</div>
<div class="t d r" style="left:516px;top:470px;width:65px;height:17px;">6.78%</div>
<div class="t d r" style="left:582px;top:470px;width:49px;height:17px;">$353</div>
<div class="t d r it" style="left:632px;top:470px;width:58px;height:17px;">$0</div>
<div class="t d r bo" style="left:691px;top:470px;width:76px;height:17px;">$353</div>
<div class="t d r" style="left:769px;top:470px;width:69px;height:17px;">$0</div>
<div class="t d r" style="left:839px;top:470px;width:75px;height:17px;">$0</div>
<div class="t d r" style="left:7px;top:488px;width:91px;height:17px;">550%</div>
<div class="t d r" style="left:100px;top:488px;width:108px;height:17px;">$68,695</div>
<div class="t d r bo" style="left:210px;top:488px;width:76px;height:17px;">$353</div>
<div class="t d r" style="left:288px;top:488px;width:65px;height:17px;">6.17%</div>
<div class="t d it c" style="left:354px;top:488px;width:49px;height:17px;">n/a</div>
<div class="t d r it" style="left:404px;top:488px;width:52px;height:17px;">$0</div>
<div class="t d r bo" style="left:457px;top:488px;width:57px;height:17px;">$353</div>
<div class="t d r" style="left:516px;top:488px;width:65px;height:17px;">6.17%</div>
<div class="t d r" style="left:582px;top:488px;width:49px;height:17px;">$353</div>
<div class="t d r it" style="left:632px;top:488px;width:58px;height:17px;">$0</div>
<div class="t d r bo" style="left:691px;top:488px;width:76px;height:17px;">$353</div>
<div class="t d r" style="left:769px;top:488px;width:69px;height:17px;">$0</div>
<div class="t d r" style="left:839px;top:488px;width:75px;height:17px;">$0</div>
<div class="t d r" style="left:7px;top:506px;width:91px;height:17px;">600%</div>
<div class="t d r" style="left:100px;top:506px;width:108px;height:17px;">$74,940</div>
<div class="t d r bo" style="left:210px;top:506px;width:76px;height:17px;">$353</div>
<div class="t d r" style="left:288px;top:506px;width:65px;height:17px;">5.65%</div>
<div class="t d it c" style="left:354px;top:506px;width:49px;height:17px;">n/a</div>
<div class="t d r it" style="left:404px;top:506px;width:52px;height:17px;">$0</div>
<div class="t d r bo" style="left:457px;top:506px;width:57px;height:17px;">$353</div>
<div class="t d r" style="left:516px;top:506px;width:65px;height:17px;">5.65%</div>
<div class="t d r" style="left:582px;top:506px;width:49px;height:17px;">$353</div>
<div class="t d r it" style="left:632px;top:506px;width:58px;height:17px;">$0</div>
<div class="t d r bo" style="left:691px;top:506px;width:76px;height:17px;">$353</div>
<div class="t d r" style="left:769px;top:506px;width:69px;height:17px;">$0</div>
<div class="t d r" style="left:839px;top:506px;width:75px;height:17px;">$0</div>
<div class="t d r" style="left:7px;top:524px;width:91px;height:17px;">650%</div>
<div class="t d r" style="left:100px;top:524px;width:108px;height:17px;">$81,185</div>
<div class="t d r bo" style="left:210px;top:524px;width:76px;height:17px;">$353</div>
<div class="t d r" style="left:288px;top:524px;width:65px;height:17px;">5.22%</div>
<div class="t d it c" style="left:354px;top:524px;width:49px;height:17px;">n/a</div>
<div class="t d r it" style="left:404px;top:524px;width:52px;height:17px;">$0</div>
<div class="t d r bo" style="left:457px;top:524px;width:57px;height:17px;">$353</div>
<div class="t d r" style="left:516px;top:524px;width:65px;height:17px;">5.22%</div>
<div class="t d r" style="left:582px;top:524px;width:49px;height:17px;">$353</div>
<div class="t d r it" style="left:632px;top:524px;width:58px;height:17px;">$0</div>
<div class="t d r bo" style="left:691px;top:524px;width:76px;height:17px;">$353</div>
<div class="t d r" style="left:769px;top:524px;width:69px;height:17px;">$0</div>
<div class="t d r" style="left:839px;top:524px;width:75px;height:17px;">$0</div>
<div class="t d r" style="left:7px;top:542px;width:91px;height:17px;">700%</div>
<div class="t d r" style="left:100px;top:542px;width:108px;height:17px;">$87,430</div>
<div class="t d r bo" style="left:210px;top:542px;width:76px;height:17px;">$353</div>
<div class="t d r" style="left:288px;top:542px;width:65px;height:17px;">4.85%</div>
<div class="t d it c" style="left:354px;top:542px;width:49px;height:17px;">n/a</div>
<div class="t d r it" style="left:404px;top:542px;width:52px;height:17px;">$0</div>
<div class="t d r bo" style="left:457px;top:542px;width:57px;height:17px;">$353</div>
<div class="t d r" style="left:516px;top:542px;width:65px;height:17px;">4.85%</div>
<div class="t d r" style="left:582px;top:542px;width:49px;height:17px;">$353</div>
<div class="t d r it" style="left:632px;top:542px;width:58px;height:17px;">$0</div>
<div class="t d r bo" style="left:691px;top:542px;width:76px;height:17px;">$353</div>
<div class="t d r" style="left:769px;top:542px;width:69px;height:17px;">$0</div>
<div class="t d r" style="left:839px;top:542px;width:75px;height:17px;">$0</div>
<div class="t d r" style="left:7px;top:560px;width:91px;height:17px;">750%</div>
<div class="t d r" style="left:100px;top:560px;width:108px;height:17px;">$93,675</div>
<div class="t d r bo" style="left:210px;top:560px;width:76px;height:17px;">$353</div>
<div class="t d r" style="left:288px;top:560px;width:65px;height:17px;">4.52%</div>
<div class="t d it c" style="left:354px;top:560px;width:49px;height:17px;">n/a</div>
<div class="t d r it" style="left:404px;top:560px;width:52px;height:17px;">$0</div>
<div class="t d r bo" style="left:457px;top:560px;width:57px;height:17px;">$353</div>
<div class="t d r" style="left:516px;top:560px;width:65px;height:17px;">4.52%</div>
<div class="t d r" style="left:582px;top:560px;width:49px;height:17px;">$353</div>
<div class="t d r it" style="left:632px;top:560px;width:58px;height:17px;">$0</div>
<div class="t d r bo" style="left:691px;top:560px;width:76px;height:17px;">$353</div>
<div class="t d r" style="left:769px;top:560px;width:69px;height:17px;">$0</div>
<div class="t d r" style="left:839px;top:560px;width:75px;height:17px;">$0</div>
<div class="t d r" style="left:7px;top:578px;width:91px;height:17px;">800%</div>
<div class="t d r" style="left:100px;top:578px;width:108px;height:17px;">$99,920</div>
<div class="t d r bo" style="left:210px;top:578px;width:76px;height:17px;">$353</div>
<div class="t d r" style="left:288px;top:578px;width:65px;height:17px;">4.24%</div>
<div class="t d it c" style="left:354px;top:578px;width:49px;height:17px;">n/a</div>
<div class="t d r it" style="left:404px;top:578px;width:52px;height:17px;">$0</div>
<div class="t d r bo" style="left:457px;top:578px;width:57px;height:17px;">$353</div>
<div class="t d r" style="left:516px;top:578px;width:65px;height:17px;">4.24%</div>
<div class="t d r" style="left:582px;top:578px;width:49px;height:17px;">$353</div>
<div class="t d r it" style="left:632px;top:578px;width:58px;height:17px;">$0</div>
<div class="t d r bo" style="left:691px;top:578px;width:76px;height:17px;">$353</div>
<div class="t d r" style="left:769px;top:578px;width:69px;height:17px;">$0</div>
<div class="t d r" style="left:839px;top:578px;width:75px;height:17px;">$0</div>
<div class="t d r" style="left:7px;top:596px;width:91px;height:17px;">850%</div>
<div class="t d r" style="left:100px;top:596px;width:108px;height:17px;">$106,165</div>
<div class="t d r bo" style="left:210px;top:596px;width:76px;height:17px;">$353</div>
<div class="t d r" style="left:288px;top:596px;width:65px;height:17px;">3.99%</div>
<div class="t d it c" style="left:354px;top:596px;width:49px;height:17px;">n/a</div>
<div class="t d r it" style="left:404px;top:596px;width:52px;height:17px;">$0</div>
<div class="t d r bo" style="left:457px;top:596px;width:57px;height:17px;">$353</div>
<div class="t d r" style="left:516px;top:596px;width:65px;height:17px;">3.99%</div>
<div class="t d r" style="left:582px;top:596px;width:49px;height:17px;">$353</div>
<div class="t d r it" style="left:632px;top:596px;width:58px;height:17px;">$0</div>
<div class="t d r bo" style="left:691px;top:596px;width:76px;height:17px;">$353</div>
<div class="t d r" style="left:769px;top:596px;width:69px;height:17px;">$0</div>
<div class="t d r" style="left:839px;top:596px;width:75px;height:17px;">$0</div>
<div class="t d r" style="left:7px;top:614px;width:91px;height:17px;">900%</div>
<div class="t d r" style="left:100px;top:614px;width:108px;height:17px;">$112,410</div>
<div class="t d r bo" style="left:210px;top:614px;width:76px;height:17px;">$353</div>
<div class="t d r" style="left:288px;top:614px;width:65px;height:17px;">3.77%</div>
<div class="t d it c" style="left:354px;top:614px;width:49px;height:17px;">n/a</div>
<div class="t d r it" style="left:404px;top:614px;width:52px;height:17px;">$0</div>
<div class="t d r bo" style="left:457px;top:614px;width:57px;height:17px;">$353</div>
<div class="t d r" style="left:516px;top:614px;width:65px;height:17px;">3.77%</div>
<div class="t d r" style="left:582px;top:614px;width:49px;height:17px;">$353</div>
<div class="t d r it" style="left:632px;top:614px;width:58px;height:17px;">$0</div>
<div class="t d r bo" style="left:691px;top:614px;width:76px;height:17px;">$353</div>
<div class="t d r" style="left:769px;top:614px;width:69px;height:17px;">$0</div>
<div class="t d r" style="left:839px;top:614px;width:75px;height:17px;">$0</div>
<div class="t d r" style="left:7px;top:632px;width:91px;height:17px;">950%</div>
<div class="t d r" style="left:100px;top:632px;width:108px;height:17px;">$118,655</div>
<div class="t d r bo" style="left:210px;top:632px;width:76px;height:17px;">$353</div>
<div class="t d r" style="left:288px;top:632px;width:65px;height:17px;">3.57%</div>
<div class="t d it c" style="left:354px;top:632px;width:49px;height:17px;">n/a</div>
<div class="t d r it" style="left:404px;top:632px;width:52px;height:17px;">$0</div>
<div class="t d r bo" style="left:457px;top:632px;width:57px;height:17px;">$353</div>
<div class="t d r" style="left:516px;top:632px;width:65px;height:17px;">3.57%</div>
<div class="t d r" style="left:582px;top:632px;width:49px;height:17px;">$353</div>
<div class="t d r it" style="left:632px;top:632px;width:58px;height:17px;">$0</div>
<div class="t d r bo" style="left:691px;top:632px;width:76px;height:17px;">$353</div>
<div class="t d r" style="left:769px;top:632px;width:69px;height:17px;">$0</div>
<div class="t d r" style="left:839px;top:632px;width:75px;height:17px;">$0</div>
<div class="t d r" style="left:7px;top:650px;width:91px;height:17px;">1000%</div>
<div class="t d r" style="left:100px;top:650px;width:108px;height:17px;">$124,900</div>
<div class="t d r bo" style="left:210px;top:650px;width:76px;height:17px;">$353</div>
<div class="t d r" style="left:288px;top:650px;width:65px;height:17px;">3.39%</div>
<div class="t d it c" style="left:354px;top:650px;width:49px;height:17px;">n/a</div>
<div class="t d r it" style="left:404px;top:650px;width:52px;height:17px;">$0</div>
<div class="t d r bo" style="left:457px;top:650px;width:57px;height:17px;">$353</div>
<div class="t d r" style="left:516px;top:650px;width:65px;height:17px;">3.39%</div>
<div class="t d r" style="left:582px;top:650px;width:49px;height:17px;">$353</div>
<div class="t d r it" style="left:632px;top:650px;width:58px;height:17px;">$0</div>
<div class="t d r bo" style="left:691px;top:650px;width:76px;height:17px;">$353</div>
<div class="t d r" style="left:769px;top:650px;width:69px;height:17px;">$0</div>
<div class="t d r" style="left:839px;top:650px;width:75px;height:17px;">$0</div>
</div>
</body></html>
